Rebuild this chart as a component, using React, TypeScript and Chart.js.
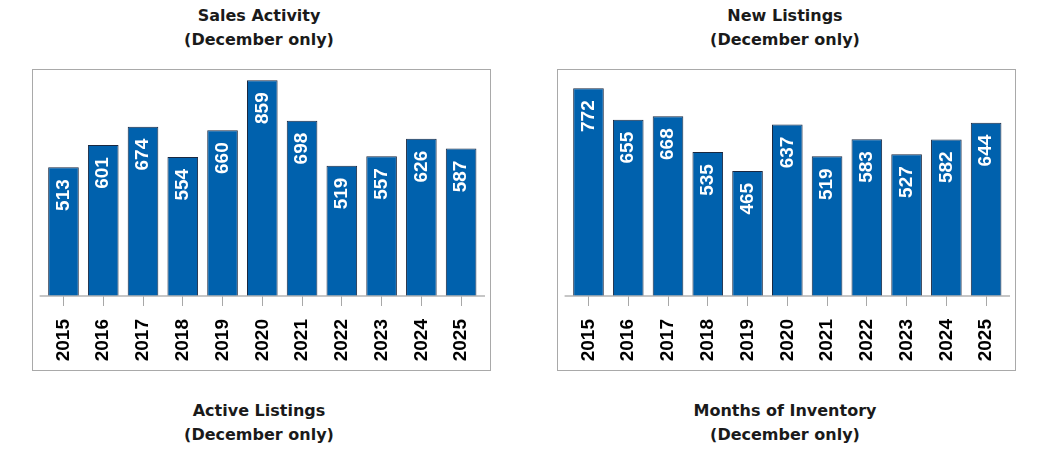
import React, { useEffect, useRef } from "react";
import { Chart, registerables } from "chart.js";

Chart.register(...registerables);

const years = ["2015", "2016", "2017", "2018", "2019", "2020", "2021", "2022", "2023", "2024", "2025"];
const salesActivity = [513, 601, 674, 554, 660, 859, 698, 519, 557, 626, 587];
const newListings = [772, 655, 668, 535, 465, 637, 519, 583, 527, 582, 644];
const salesMax = 900;
const listingsMax = 840;

const topTitles = ["Sales Activity", "New Listings"];
const bottomTitles = ["Active Listings", "Months of Inventory"];
const subtitle = "(December only)";

const BAR_COLOR = "#0061ad";
const BAR_BORDER = "#1a2840";

const valueLabels = {
  id: "valueLabels",
  afterDatasetsDraw(chart: any) {
    const ctx = chart.ctx;
    const meta = chart.getDatasetMeta(0);
    const data = chart.data.datasets[0].data;
    ctx.save();
    ctx.font = "bold 19px 'Liberation Sans Narrow', 'Liberation Sans', sans-serif";
    ctx.fillStyle = "#ffffff";
    ctx.textAlign = "right";
    ctx.textBaseline = "middle";
    meta.data.forEach((bar: any, i: number) => {
      ctx.save();
      ctx.translate(bar.x, bar.y + 12);
      ctx.rotate(-Math.PI / 2);
      ctx.fillText(String(data[i]), 0, 0);
      ctx.restore();
    });
    ctx.restore();
  },
};

const baseline = {
  id: "baseline",
  afterDatasetsDraw(chart: any) {
    const { ctx, chartArea } = chart;
    ctx.save();
    ctx.strokeStyle = "#b3b3b3";
    ctx.lineWidth = 1.5;
    ctx.beginPath();
    ctx.moveTo(chartArea.left - 4, chartArea.bottom);
    ctx.lineTo(chartArea.right + 4, chartArea.bottom);
    ctx.stroke();
    ctx.restore();
  },
};

function BarBox({ values, max, left }: { values: number[]; max: number; left: number }) {
  const ref = useRef<HTMLCanvasElement | null>(null);
  useEffect(() => {
    if (!ref.current) return;
    const chart = new Chart(ref.current, {
      type: "bar",
      data: {
        labels: years,
        datasets: [
          {
            data: values,
            backgroundColor: BAR_COLOR,
            borderColor: BAR_BORDER,
            borderWidth: 1,
            categoryPercentage: 1,
            barPercentage: 0.77,
          },
        ],
      },
      options: {
        animation: false,
        responsive: true,
        maintainAspectRatio: false,
        layout: { padding: { left: 10.6, right: 9, top: 0, bottom: 0 } },
        plugins: { legend: { display: false }, tooltip: { enabled: false }, title: { display: false } },
        scales: {
          x: {
            border: { display: false },
            grid: {
              display: true,
              drawOnChartArea: false,
              drawTicks: true,
              tickLength: 10,
              color: "#a8a8a8",
              offset: false,
            },
            ticks: {
              minRotation: 90,
              maxRotation: 90,
              autoSkip: false,
              padding: 13,
              color: "#000000",
              font: { family: "'Liberation Sans', Arial, sans-serif", size: 19, weight: "bold" },
            },
            afterFit(scale: any) {
              scale.height = 74;
              scale.paddingLeft = 0;
              scale.paddingRight = 0;
            },
          },
          y: {
            display: false,
            min: 0,
            max: max,
          },
        },
      },
      plugins: [baseline, valueLabels],
    });
    return () => chart.destroy();
  }, []);
  return (
    <div
      style={{
        position: "absolute",
        left: left,
        top: 69,
        width: 459,
        height: 302,
        boxSizing: "border-box",
        border: "1px solid #a9a9a9",
        background: "#fff",
      }}
    >
      <div style={{ position: "relative", width: 457, height: 300 }}>
        <canvas ref={ref} />
      </div>
    </div>
  );
}

function Title({ text, center, top }: { text: string; center: number; top: number }) {
  return (
    <div
      style={{
        position: "absolute",
        left: center - 200,
        top: top,
        width: 400,
        textAlign: "center",
        fontFamily: "'DejaVu Sans', sans-serif",
        fontWeight: "bold",
        fontSize: 16,
        lineHeight: "24px",
        color: "#1a1a1a",
      }}
    >
      <div>{text}</div>
      <div>{subtitle}</div>
    </div>
  );
}

export default function App() {
  return (
    <div
      style={{
        position: "absolute",
        left: 0,
        top: 0,
        width: 1050,
        height: 459,
        overflow: "hidden",
        background: "#fff",
      }}
    >
      <Title text={topTitles[0]} center={259} top={4} />
      <Title text={topTitles[1]} center={785} top={4} />
      <BarBox values={salesActivity} max={salesMax} left={32} />
      <BarBox values={newListings} max={listingsMax} left={557} />
      <Title text={bottomTitles[0]} center={259} top={399} />
      <Title text={bottomTitles[1]} center={785} top={399} />
    </div>
  );
}
